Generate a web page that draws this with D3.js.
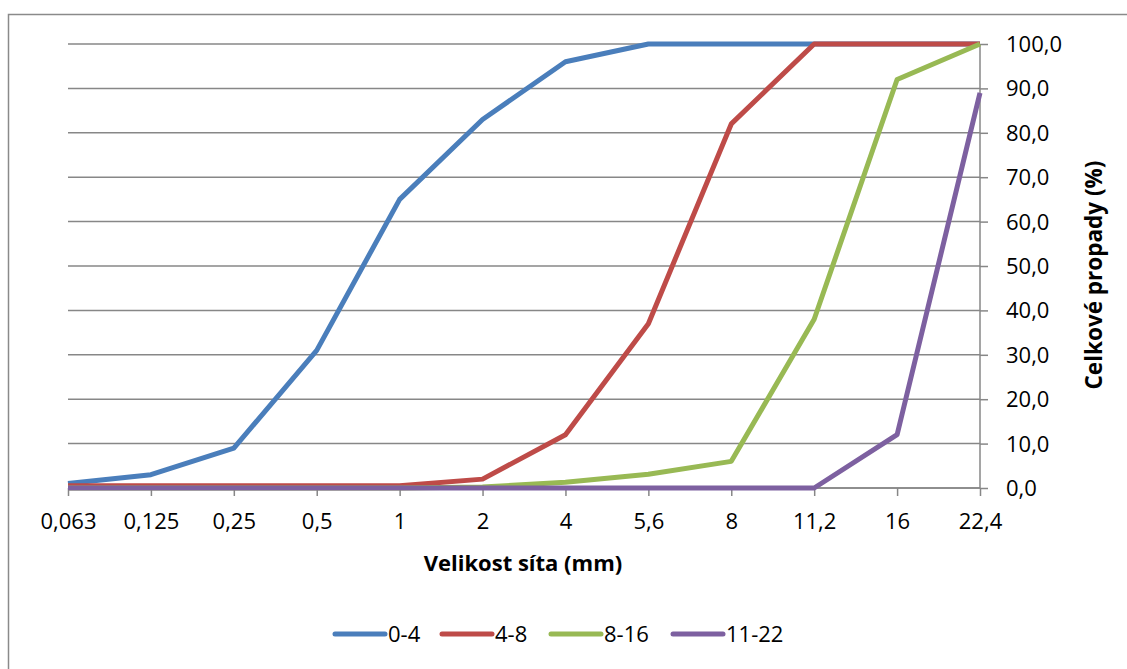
<!DOCTYPE html>
<html>
<head>
<meta charset="utf-8">
<script src="https://cdn.jsdelivr.net/npm/d3@7"></script>
<style>
  body { margin: 0; background: #fff; }
  text { font-family: "Open Sans", "Noto Sans", sans-serif; fill: #000; }
</style>
</head>
<body>
<script>
const WIDTH = 1127;
const HEIGHT = 669;
const FONT = 22;

var sieves = ['0,063', '0,125', '0,25', '0,5', '1', '2', '4', '5,6', '8', '11,2', '16', '22,4'];
var yTicks = [0, 10, 20, 30, 40, 50, 60, 70, 80, 90, 100];
var seriesNames = ['0-4', '4-8', '8-16', '11-22'];
var colors = ['#4a7ebb', '#be4b48', '#98b954', '#7d60a0'];

var s04 = [1, 3, 9, 31, 65, 83, 96, 100, 100, 100, 100, 100];
var s48 = [0.5, 0.5, 0.5, 0.5, 0.5, 2, 12, 37, 82, 100, 100, 100];
var s816 = [0, 0, 0, 0, 0, 0.2, 1.3, 3.1, 6, 38, 92, 100];
var s1122 = [0, 0, 0, 0, 0, 0, 0, 0, 0, 0, 12, 89];

var allSeries = [s04, s48, s816, s1122];

var svg = d3.select('body').append('svg')
    .attr('width', WIDTH)
    .attr('height', HEIGHT);

// outer chart border (only top and left are in frame)
svg.append('path')
    .attr('d', 'M8.5,669 L8.5,14.5 L1127,14.5')
    .attr('fill', 'none')
    .attr('stroke', '#8a8a8a')
    .attr('stroke-width', 1.5);

var xScale = d3.scalePoint()
    .domain(sieves)
    .range([68, 980]);
var yScale = d3.scaleLinear()
    .domain([0, 100])
    .range([488, 44]);

// grid
svg.append('g')
    .selectAll('line')
    .data(yTicks)
    .enter()
    .append('line')
    .attr('x1', 68)
    .attr('x2', 980)
    .attr('y1', function (d) { return yScale(d); })
    .attr('y2', function (d) { return yScale(d); })
    .attr('stroke', '#878787')
    .attr('stroke-width', 1.5);

var yAxis = d3.axisRight(yScale)
    .tickValues(yTicks)
    .tickSize(8)
    .tickPadding(18)
    .tickFormat(function (d) { return d.toFixed(1).replace('.', ','); });
var gy = svg.append('g')
    .attr('transform', 'translate(980,0)')
    .call(yAxis);
gy.select('.domain').attr('stroke', '#878787').attr('stroke-width', 1.5).attr('d', 'M0,44V488');
gy.selectAll('.tick line').attr('stroke', '#878787').attr('stroke-width', 1.5);
gy.selectAll('.tick text').attr('font-size', FONT).attr('font-family', '"Open Sans", sans-serif').attr('dy', '0.34em');

var xAxis = d3.axisBottom(xScale)
    .tickSize(8)
    .tickPadding(17);
var gx = svg.append('g')
    .attr('transform', 'translate(0,488)')
    .call(xAxis);
gx.select('.domain').attr('stroke', '#878787').attr('stroke-width', 1.5).attr('d', 'M68,0H980');
gx.selectAll('.tick line').attr('stroke', '#878787').attr('stroke-width', 1.5);
gx.selectAll('.tick text').attr('font-size', FONT).attr('font-family', '"Open Sans", sans-serif');

var line = d3.line()
    .x(function (d, i) { return xScale(sieves[i]); })
    .y(function (d) { return yScale(d); });

svg.append('g')
    .selectAll('path')
    .data(allSeries)
    .enter()
    .append('path')
    .attr('d', line)
    .attr('fill', 'none')
    .attr('stroke', function (d, i) { return colors[i]; })
    .attr('stroke-width', 5)
    .attr('stroke-linejoin', 'round');

svg.append('text')
    .attr('x', 523)
    .attr('y', 571)
    .attr('text-anchor', 'middle')
    .attr('font-size', FONT)
    .attr('font-weight', 'bold')
    .text('Velikost síta (mm)');

svg.append('text')
    .attr('transform', 'translate(1102,275) rotate(-90)')
    .attr('text-anchor', 'middle')
    .attr('font-size', 22.5)
    .attr('font-weight', 'bold')
    .text('Celkové propady (%)');

// legend
var legendX = [335, 442, 551, 673];
var legend = svg.append('g')
    .selectAll('g')
    .data(seriesNames)
    .enter()
    .append('g')
    .attr('transform', function (d, i) { return 'translate(' + legendX[i] + ',634)'; });
legend.append('line')
    .attr('x1', 0)
    .attr('x2', 50)
    .attr('stroke', function (d, i) { return colors[i]; })
    .attr('stroke-width', 5)
    .attr('stroke-linecap', 'round');
legend.append('text')
    .attr('x', 53)
    .attr('dy', '0.35em')
    .attr('font-size', FONT)
    .text(function (d) { return d; });
</script>
</body>
</html>
